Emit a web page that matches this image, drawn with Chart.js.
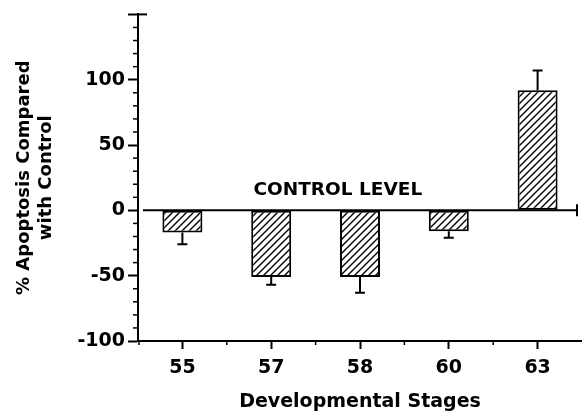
<html>
<head>
<meta charset="utf-8" />
<title>Apoptosis vs developmental stage</title>
<script src="https://cdn.jsdelivr.net/npm/chart.js@4.4.0/dist/chart.umd.min.js"></script>
<style>
  html, body { margin: 0; padding: 0; background: #fff; }
  #wrap { width: 582px; height: 413px; }
</style>
</head>
<body>
<div id="wrap"><canvas id="c" width="582" height="413"></canvas></div>
<script>
// data
const stages = ["55", "57", "58", "60", "63"];
const apoptosis = [-17, -51, -51, -16, 92];   // % compared with control
const errors = [9, 6, 12, 5, 15];             // one-sided error bars
const majorTicks = [-100, -50, 0, 50, 100];

const FONT = "'DejaVu Sans', sans-serif";

// diagonal hatch pattern for the bars
function makeHatch() {
  const p = document.createElement("canvas");
  p.width = 7; p.height = 7;
  const g = p.getContext("2d");
  g.fillStyle = "#fff";
  g.fillRect(0, 0, 7, 7);
  g.strokeStyle = "#000";
  g.lineWidth = 1.4;
  g.beginPath();
  g.moveTo(-1, 8); g.lineTo(8, -1);
  g.moveTo(-1, 1); g.lineTo(1, -1);
  g.moveTo(6, 8); g.lineTo(8, 6);
  g.stroke();
  return g.createPattern(p, "repeat");
}

// error bars, minor ticks, control line and its label
const extras = {
  id: "extras",
  afterDatasetsDraw(chart) {
    const ctx = chart.ctx;
    const x = chart.scales.x, y = chart.scales.y;
    const area = chart.chartArea;
    ctx.save();
    ctx.strokeStyle = "#000";
    ctx.lineCap = "butt";

    // error bars
    ctx.lineWidth = 2;
    chart.getDatasetMeta(0).data.forEach((bar, i) => {
      const v = apoptosis[i];
      const end = v + (v < 0 ? -errors[i] : errors[i]);
      const y0 = y.getPixelForValue(v);
      const y1 = y.getPixelForValue(end);
      ctx.beginPath();
      ctx.moveTo(bar.x, y0); ctx.lineTo(bar.x, y1);
      ctx.moveTo(bar.x - 5, y1); ctx.lineTo(bar.x + 5, y1);
      ctx.stroke();
    });

    // control level line at 0
    const y0 = y.getPixelForValue(0);
    const xl = area.left + 5, xr = area.right - 5;
    ctx.lineWidth = 2;
    ctx.beginPath();
    ctx.moveTo(xl, y0); ctx.lineTo(xr, y0);
    ctx.moveTo(xr, y0 - 6); ctx.lineTo(xr, y0 + 6);
    ctx.stroke();

    ctx.fillStyle = "#000";
    ctx.font = "bold 18.5px " + FONT;
    ctx.textAlign = "center";
    ctx.textBaseline = "bottom";
    const cx = 0.25 * x.getPixelForValue(1) + 0.75 * x.getPixelForValue(2);
    ctx.fillText("CONTROL LEVEL", cx, y0 - 11);

    // minor y ticks every 10
    ctx.lineWidth = 1.5;
    for (let v = y.min; v <= y.max; v += 10) {
      if (v % 50 === 0) continue;
      const py = y.getPixelForValue(v);
      ctx.beginPath();
      ctx.moveTo(area.left - 5, py); ctx.lineTo(area.left, py);
      ctx.stroke();
    }
    // top tick crosses the axis
    const pt = y.getPixelForValue(y.max);
    ctx.lineWidth = 2;
    ctx.beginPath();
    ctx.moveTo(area.left, pt); ctx.lineTo(area.left + 9, pt);
    ctx.stroke();

    // minor x ticks between stages
    ctx.lineWidth = 1.5;
    for (let i = 0; i < stages.length; i++) {
      const px = i === 0 ? area.left + 1 : (x.getPixelForValue(i - 1) + x.getPixelForValue(i)) / 2;
      ctx.beginPath();
      ctx.moveTo(px, area.bottom); ctx.lineTo(px, area.bottom + 4);
      ctx.stroke();
    }
    ctx.restore();
  }
};

new Chart(document.getElementById("c"), {
  type: "bar",
  data: {
    labels: stages,
    datasets: [{
      data: apoptosis,
      backgroundColor: makeHatch(),
      borderColor: "#000",
      borderWidth: 2,
      borderSkipped: false,
      categoryPercentage: 1,
      barPercentage: 0.45
    }]
  },
  options: {
    responsive: false,
    animation: false,
    events: [],
    layout: { padding: { top: 10, right: 0, left: 0, bottom: 0 } },
    plugins: { legend: { display: false }, tooltip: { enabled: false } },
    scales: {
      x: {
        offset: true,
        border: { display: true, color: "#000", width: 2 },
        grid: { display: true, drawOnChartArea: false, offset: false, tickLength: 8, tickWidth: 2, tickColor: "#000" },
        ticks: { color: "#000", font: { family: FONT, size: 19, weight: "bold" }, padding: 8, maxRotation: 0 },
        title: {
          display: true, text: "Developmental Stages", color: "#000",
          font: { family: FONT, size: 19, weight: "bold" }, padding: { top: 0, bottom: 0 }
        },
        afterFit(s) { s.height = 72; }
      },
      y: {
        min: -100,
        max: 150,
        border: { display: true, color: "#000", width: 2 },
        grid: { display: true, drawOnChartArea: false, tickLength: 10, tickWidth: 2, tickColor: "#000" },
        ticks: {
          stepSize: 50,
          color: "#000",
          padding: 3,
          font: { family: FONT, size: 19, weight: "bold" },
          callback: (v) => majorTicks.includes(v) ? String(v) : ""
        },
        title: {
          display: true, text: ["% Apoptosis Compared", "with Control"], color: "#000",
          font: { family: FONT, size: 18, weight: "bold" }, lineHeight: 1.1, padding: { top: 14, bottom: 0 }
        },
        afterFit(s) { s.width = 138; }
      }
    }
  },
  plugins: [extras]
});
</script>
</body>
</html>
